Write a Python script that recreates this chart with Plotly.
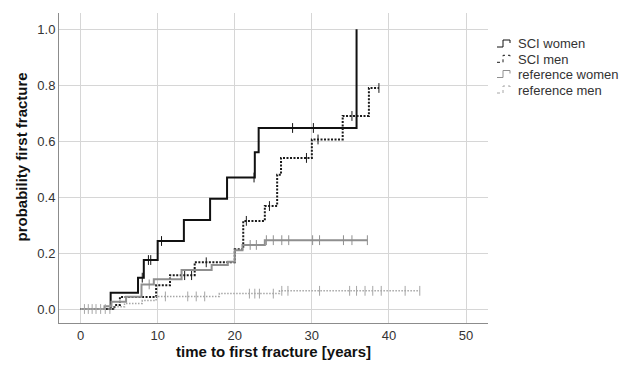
import numpy as np
import plotly.graph_objects as go

# ---- data ----
sci_women_t = [0, 3.9, 7.45, 8.2, 10.0, 13.4, 16.8, 19.0, 22.6, 23.1, 35.8]
sci_women_p = [0, 0.058, 0.112, 0.175, 0.243, 0.318, 0.394, 0.47, 0.56, 0.647, 1.0]
sci_women_cens = [8.0, 8.8, 9.1, 10.5, 22.5, 27.5, 30.2]

sci_men_t = [0, 4.4, 5.1, 9.8, 11.6, 14.8, 20.0, 21.1, 23.9, 25.5, 26.0, 30.0, 34.0, 37.4, 38.7]
sci_men_p = [0, 0.014, 0.043, 0.085, 0.121, 0.167, 0.214, 0.315, 0.368, 0.48, 0.54, 0.606, 0.69, 0.79, 0.79]
sci_men_cens = [13.5, 14.4, 16.3, 21.5, 24.5, 29.3, 30.8, 35.2, 38.7]

ref_women_t = [0, 3.1, 4.0, 5.9, 7.9, 9.5, 13.1, 17.0, 19.1, 20.0, 21.0, 23.9, 37.2]
ref_women_p = [0, 0.01, 0.026, 0.044, 0.088, 0.106, 0.139, 0.157, 0.169, 0.21, 0.229, 0.246, 0.246]
ref_women_cens = [8.9, 22.0, 22.8, 24.1, 25.0, 26.1, 27.0, 30.1, 31.0, 34.1, 35.2, 37.2]

ref_men_t = [0, 4.5, 5.7, 8.0, 9.8, 18.0, 25.8, 44.0]
ref_men_p = [0, 0.008, 0.02, 0.03, 0.045, 0.055, 0.065, 0.065]
ref_men_cens = [0.5, 1.0, 1.5, 2.0, 2.6, 3.2, 3.8, 11.0, 13.9, 15.0, 16.1, 21.9, 22.6,
                23.2, 25.0, 26.1, 26.9, 31.0, 34.9, 35.8, 36.9, 37.9, 39.0, 42.1, 44.0]

series_names = ["SCI women", "SCI men", "reference women", "reference men"]
x_ticks = [0, 10, 20, 30, 40, 50]
y_ticks = [0.0, 0.2, 0.4, 0.6, 0.8, 1.0]
y_tick_labels = ["0.0", "0.2", "0.4", "0.6", "0.8", "1.0"]


def step_value(ts, ps, t):
    idx = np.searchsorted(np.array(ts), t, side="right") - 1
    return ps[max(idx, 0)]


styles = [
    ("#111111", "solid", 2.0),
    ("#1a1a1a", "2px,1.5px", 2.0),
    ("#8f8f8f", "solid", 2.0),
    ("#a6a6a6", "1.5px,1.5px", 1.5),
]
data = [
    (sci_women_t, sci_women_p, sci_women_cens),
    (sci_men_t, sci_men_p, sci_men_cens),
    (ref_women_t, ref_women_p, ref_women_cens),
    (ref_men_t, ref_men_p, ref_men_cens),
]

# layout geometry (pixels)
W, H = 620, 366
L, R, T, B = 59, 132, 13, 43
PW, PH = W - L - R, H - T - B


def px(xp):
    return (xp - L) / PW


def py(yp):
    return (H - B - yp) / PH


fig = go.Figure()
for name, (ts, ps, cens), (color, dash, w) in zip(series_names, data, styles):
    fig.add_trace(go.Scatter(
        x=ts, y=ps, mode="lines", name=name,
        line=dict(color=color, dash=dash, width=w, shape="hv"),
        showlegend=False,
    ))
    fig.add_trace(go.Scatter(
        x=cens, y=[step_value(ts, ps, c) for c in cens], mode="markers",
        marker=dict(symbol="line-ns-open", size=7, color=color,
                    line=dict(color=color, width=1)),
        showlegend=False, hoverinfo="skip",
    ))

# custom legend with small step icons
legend_rows = [44, 59.3, 74.5, 90]
shapes = []
annotations = []
for name, (color, dash, w), yc in zip(series_names, styles, legend_rows):
    x0, x1, x2 = 497, 503, 510
    ylo, yhi, ymid = yc + 3, yc - 4, yc - 1
    path = (f"M {px(x0)},{py(ylo)} L {px(x1)},{py(ylo)} L {px(x1)},{py(yhi)} "
            f"L {px(x2)},{py(yhi)} L {px(x2)},{py(ymid)}")
    shapes.append(dict(type="path", xref="paper", yref="paper", path=path,
                       line=dict(color=color, width=1,
                                 dash="solid" if dash == "solid" else "dot")))
    annotations.append(dict(text=name, xref="paper", yref="paper", x=px(516), y=py(yc),
                            xanchor="left", yanchor="middle", showarrow=False,
                            font=dict(size=13, color="#333333")))

annotations.append(dict(text="<b>probability first fracture</b>", xref="paper", yref="paper",
                        x=px(21), y=py(157.5), xanchor="center", yanchor="middle",
                        textangle=-90, showarrow=False,
                        font=dict(size=15, color="#111111")))

font_family = "Arial, Liberation Sans, sans-serif"
fig.update_layout(
    width=W, height=H,
    margin=dict(l=L, r=R, t=T, b=B),
    paper_bgcolor="white", plot_bgcolor="white",
    font=dict(family=font_family, size=13, color="#333333"),
    showlegend=False,
    shapes=shapes,
    annotations=annotations,
    xaxis=dict(range=[-2.8, 52.85], tickvals=x_ticks, showgrid=True, gridcolor="#d6d6d6",
               gridwidth=1, zeroline=False, showline=True, linecolor="#8c8c8c", linewidth=1,
               ticks="", tickfont=dict(size=13, color="#333333"), automargin=False,
               title=dict(text="<b>time to first fracture [years]</b>",
                          font=dict(size=15, color="#111111"), standoff=4)),
    yaxis=dict(range=[-0.05, 1.058], tickvals=y_ticks, ticktext=y_tick_labels, showgrid=True,
               gridcolor="#d6d6d6", gridwidth=1, zeroline=False, showline=True, linecolor="#8c8c8c",
               linewidth=1, ticks="", tickfont=dict(size=13, color="#333333"), automargin=False),
)

fig.write_html("out.html", config={"displayModeBar": False},
               post_script="document.body.style.margin='0';document.body.style.overflow='hidden';")
